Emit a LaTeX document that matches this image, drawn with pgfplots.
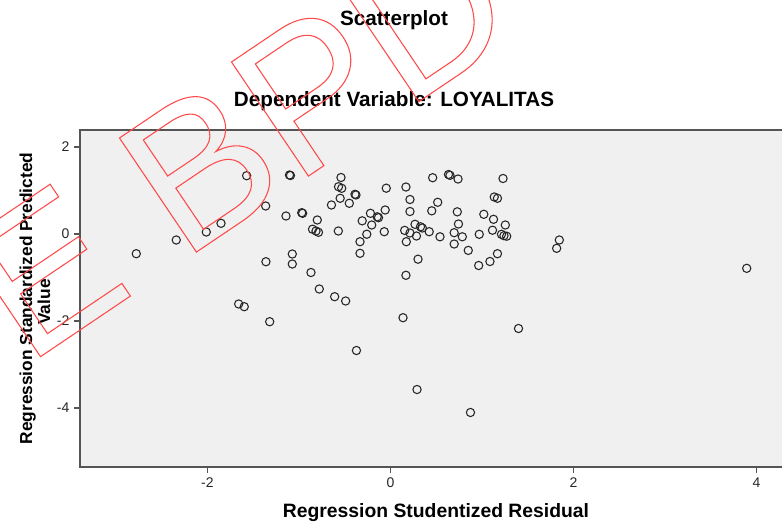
\documentclass[border=0pt]{standalone}
\usepackage{fontspec}
\setmainfont{Liberation Sans}
\newfontfamily\wmfont{Liberation Sans}
\usepackage{pgfplots}
\pgfplotsset{compat=1.18}
\definecolor{plotbg}{HTML}{F0F0F0}
\definecolor{frame}{HTML}{555555}
\definecolor{wm}{HTML}{FF4A4A}

\pgfplotstableread{
x y
-1.572 1.340
-1.104 1.356
-1.093 1.345
-1.364 0.644
-1.142 0.414
-0.970 0.490
-0.960 0.476
-0.800 0.322
-0.852 0.110
-0.814 0.069
-0.787 0.039
-1.852 0.246
-2.013 0.046
-2.341 -0.138
-2.778 -0.453
-1.073 -0.460
-1.361 -0.637
-1.073 -0.690
-0.869 -0.885
-0.778 -1.264
-1.659 -1.609
-1.598 -1.671
-1.320 -2.016
-0.541 1.299
-0.568 1.087
-0.533 1.051
-0.388 0.913
-0.377 0.897
-0.046 1.053
0.169 1.080
0.461 1.294
0.634 1.368
0.650 1.349
0.738 1.264
1.230 1.276
1.134 0.851
1.169 0.821
-0.550 0.821
-0.450 0.706
-0.645 0.667
0.213 0.793
0.516 0.729
-0.058 0.552
-0.219 0.476
-0.145 0.395
-0.131 0.375
-0.309 0.303
-0.205 0.207
0.213 0.517
0.451 0.533
0.730 0.510
1.020 0.453
1.126 0.338
0.743 0.230
1.255 0.207
1.115 0.087
1.213 -0.007
1.240 -0.039
1.270 -0.051
-0.570 0.069
-0.259 -0.005
-0.068 0.053
-0.333 -0.177
-0.333 -0.444
0.155 0.083
0.213 0.023
0.268 0.223
0.328 0.166
0.348 0.138
0.423 0.053
0.284 -0.046
0.173 -0.177
0.541 -0.064
0.696 0.030
0.785 -0.064
0.696 -0.230
0.970 -0.007
0.850 -0.377
1.169 -0.453
1.087 -0.632
0.964 -0.724
0.301 -0.579
0.169 -0.949
-0.610 -1.441
-0.490 -1.540
0.137 -1.924
1.399 -2.172
1.845 -0.138
1.816 -0.329
3.893 -0.789
-0.372 -2.678
0.290 -3.575
0.874 -4.103
}\resid

\begin{document}
\begin{tikzpicture}[x=0.75pt,y=0.75pt]
\useasboundingbox (0,0) rectangle (782,523);
\begin{scope}
\clip (0,0) rectangle (782,523);
\begin{axis}[
  at={(60pt,42pt)}, anchor=south west,
  scale only axis, width=532.5pt, height=252.75pt,
  xmin=-3.393, xmax=4.366, ymin=-5.356, ymax=2.391,
  axis background/.style={fill=plotbg},
  axis line style={frame, line width=1.3pt},
  xtick={-2,0,2,4}, ytick={-4,-2,0,2},
  xtick pos=bottom, ytick pos=left,
  tick align=outside, major tick length=4.5pt,
  tick style={frame, line width=0.8pt},
  ticklabel style={font=\fontsize{10.5}{12}\selectfont, text=black!85},
  /pgf/number format/assume math mode=true,
  clip=false,
]
\addplot[only marks, mark=o, mark size=3.1pt, mark options={line width=0.8pt, draw=black!85}] table[x=x,y=y] {\resid};
\end{axis}

\node[anchor=base, font=\bfseries\fontsize{15.5}{18}\selectfont] at (394,497) {Scatterplot};
\node[anchor=base, font=\bfseries\fontsize{15.5}{18}\selectfont] at (394,416) {Dependent Variable: LOYALITAS};
\node[anchor=base, font=\bfseries\fontsize{14.5}{17}\selectfont] at (436,5) {Regression Studentized Residual};
\node[anchor=base, rotate=90, font=\bfseries\fontsize{13}{15}\selectfont] at (32,224.5) {Regression Standardized Predicted};
\node[anchor=base, rotate=90, font=\bfseries\fontsize{13}{15}\selectfont] at (50,221) {Value};

\begin{scope}[every node/.style={anchor=base west, rotate=34, inner sep=0pt, text=wm,
  font=\wmfont\fontsize{150}{150}\selectfont}]
\node at (26.7,157) {\special{pdf:literal direct 1 0.29 0.29 RG 1 Tr 0.8 w}E\special{pdf:literal direct 0 Tr}};
\node at (182.6,261.6) {\special{pdf:literal direct 1 0.29 0.29 RG 1 Tr 0.8 w}B\special{pdf:literal direct 0 Tr}};
\node at (294.6,337.6) {\special{pdf:literal direct 1 0.29 0.29 RG 1 Tr 0.8 w}P\special{pdf:literal direct 0 Tr}};
\node at (405,412) {\special{pdf:literal direct 1 0.29 0.29 RG 1 Tr 0.8 w}D\special{pdf:literal direct 0 Tr}};
\end{scope}
\end{scope}
\end{tikzpicture}
\end{document}
